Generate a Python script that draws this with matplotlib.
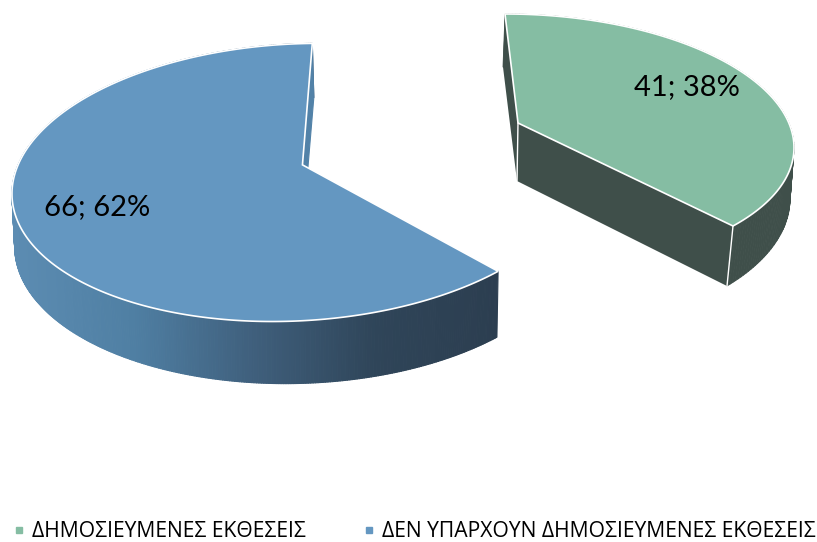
import numpy as np
import matplotlib
matplotlib.use('Agg')
import matplotlib.pyplot as plt
from matplotlib.collections import PolyCollection
from matplotlib.colors import LinearSegmentedColormap
from matplotlib.lines import Line2D
from matplotlib.patches import Polygon

# Datos
categorias = ['ΔΗΜΟΣΙΕΥΜΕΝΕΣ ΕΚΘΕΣΕΙΣ', 'ΔΕΝ ΥΠΑΡΧΟΥΝ ΔΗΜΟΣΙΕΥΜΕΝΕΣ ΕΚΘΕΣΕΙΣ']
valores = [41, 66]

primer_angulo = -5
color_verde = '#85bda3'
color_verde_osc = '#3f4f4a'
color_azul = '#6497c1'
color_azul_pared = '#5282a8'
grad_azul = LinearSegmentedColormap.from_list(
    'azul', ['#5c8cb2', '#4f7fa3', '#3f5f7c', '#2f4559', '#2c3e50'])

angulos = 360 * np.array(valores) / sum(valores)
ini_verde, fin_verde = primer_angulo, primer_angulo + angulos[0]
ini_azul, fin_azul = fin_verde, fin_verde + angulos[1]


def circulo(a):
    a = np.radians(a)
    return np.sin(a), np.cos(a)


def homografia(pares):
    # pares: (punto del circulo unidad, pixel)
    filas = []
    for (u, v), (x, y) in pares:
        filas.append([u, v, 1, 0, 0, 0, -x * u, -x * v, -x])
        filas.append([0, 0, 0, u, v, 1, -y * u, -y * v, -y])
    return np.linalg.svd(np.array(filas))[2][-1].reshape(3, 3)


def proyectar(H, a):
    u, v = circulo(a)
    p = H @ np.array([u, v, np.ones_like(u)])
    return np.column_stack([p[0] / p[2], p[1] / p[2]])


def centro(H):
    return H[0, 2] / H[2, 2], H[1, 2] / H[2, 2]


# Calibracion de la perspectiva (pixeles de la figura)
# centro y puntas van repetidos para que pesen mas en el ajuste
H_az_sup = homografia([((0, 0), (300, 163))] * 6 + [(circulo(ini_azul), (498, 273))] * 4
                      + [(circulo(fin_azul), (314, 44))] * 4
                      + [(circulo(182), (260, 318)), (circulo(257), (11, 195))])
H_az_inf = homografia([((0, 0), (300, 222))] * 6 + [(circulo(ini_azul), (497, 338))] * 4
                      + [(circulo(fin_azul), (316, 98))] * 4
                      + [(circulo(182), (262, 382)), (circulo(257), (14, 245))])
H_ve_sup = homografia([((0, 0), (518, 123)), (circulo(ini_verde), (505, 14)),
                       (circulo(fin_verde), (733, 226)), (circulo(96), (794, 147))])
H_ve_inf = homografia([((0, 0), (517, 181)), (circulo(ini_verde), (503, 67)),
                       (circulo(fin_verde), (727, 286)), (circulo(96), (790, 198))])

fig = plt.figure(figsize=(8.17, 5.42), dpi=100)
ax = fig.add_axes([0, 0, 1, 1])
ax.set_xlim(0, 817)
ax.set_ylim(542, 0)
ax.axis('off')

# Porcion azul
arco = np.linspace(ini_azul, fin_azul, 500)
sup = proyectar(H_az_sup, arco)
inf = proyectar(H_az_inf, arco)
quads = [[sup[i], sup[i + 1], inf[i + 1], inf[i]] for i in range(len(arco) - 1)]
tonos = (np.array([q[0][0] for q in quads]) - 20) / 477
ax.add_collection(PolyCollection(quads, array=tonos, cmap=grad_azul,
                                 edgecolors='face', linewidths=0.8))
ax.add_patch(Polygon([centro(H_az_sup), sup[-1], inf[-1], centro(H_az_inf)],
                     fc=color_azul_pared, ec=color_azul_pared, lw=0.8))
ax.add_patch(Polygon(np.vstack([centro(H_az_sup), sup]), fc=color_azul, ec='white', lw=1.2))

# Porcion verde
arco = np.linspace(ini_verde, fin_verde, 160)
sup = proyectar(H_ve_sup, arco)
inf = proyectar(H_ve_inf, arco)
c_sup, c_inf = centro(H_ve_sup), centro(H_ve_inf)
ax.add_patch(Polygon([c_sup, sup[0], inf[0], c_inf], fc=color_verde_osc, ec='none'))
quads = [[sup[i], sup[i + 1], inf[i + 1], inf[i]] for i in range(len(arco) - 1)]
ax.add_collection(PolyCollection(quads, facecolors=color_verde_osc,
                                 edgecolors='face', linewidths=0.6))
ax.add_patch(Polygon([c_sup, sup[-1], inf[-1], c_inf], fc=color_verde_osc, ec='none'))
ax.plot([c_sup[0], c_inf[0]], [c_sup[1], c_inf[1]], color='white', lw=1)
ax.plot([sup[-1][0], inf[-1][0]], [sup[-1][1], inf[-1][1]], color='white', lw=1)
ax.add_patch(Polygon(np.vstack([c_sup, sup]), fc=color_verde, ec='white', lw=1.2))

# Etiquetas
total = sum(valores)
etiqueta = lambda v: f'{v}; {round(100 * v / total)}%'
ax.text(687, 87, etiqueta(valores[0]), fontsize=21, family='Lato', ha='center', va='center', color='black')
ax.text(97, 207, etiqueta(valores[1]), fontsize=21, family='Lato', ha='center', va='center', color='black')

# Leyenda
marcas = [Line2D([], [], ls='', marker='s', ms=5, color=color_verde),
          Line2D([], [], ls='', marker='s', ms=5, color=color_azul)]
ax.legend(marcas, categorias, ncol=2, frameon=False, loc='lower left',
          bbox_to_anchor=(11, 542), bbox_transform=ax.transData,
          borderpad=0, borderaxespad=0, handlelength=0.8, handletextpad=0.2, columnspacing=2.6,
          prop={'family': 'Open Sans', 'size': 15.2})

fig.savefig('out.png', dpi=100)
